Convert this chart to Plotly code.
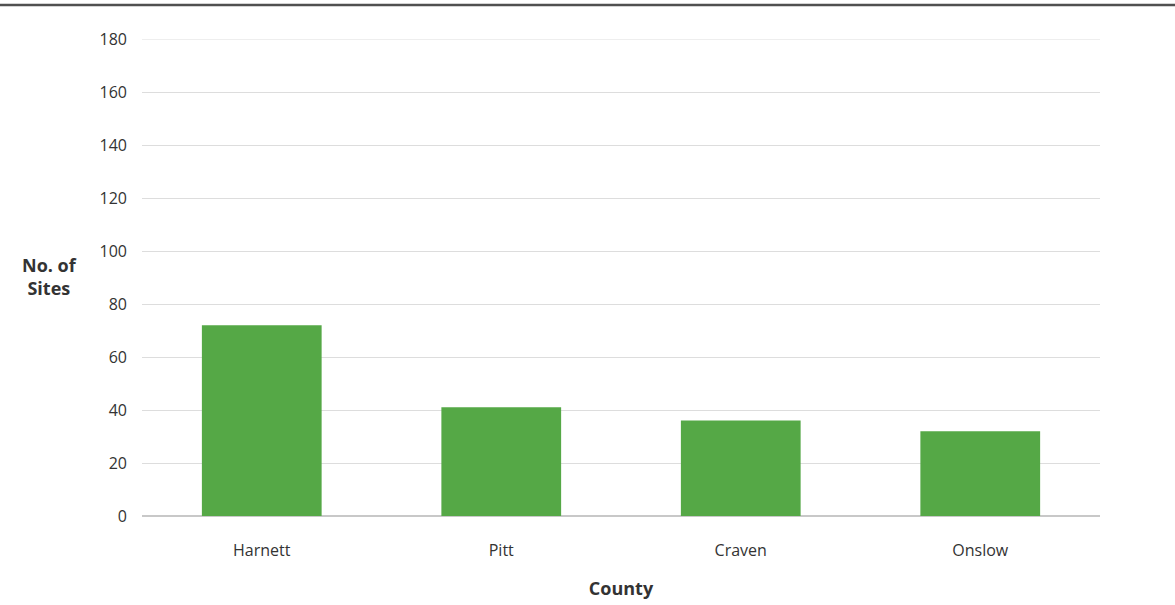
import plotly.graph_objects as go

counties = ["Harnett", "Pitt", "Craven", "Onslow"]
sites = [72, 41, 36, 32]
y_ticks = [0, 20, 40, 60, 80, 100, 120, 140, 160, 180]

W, H = 1175, 605
M = dict(l=142, r=75, t=39, b=89)
plot_h = H - M["t"] - M["b"]
plot_w = W - M["l"] - M["r"]

fig = go.Figure(
    go.Bar(
        x=counties,
        y=sites,
        marker=dict(color="#55a846", line=dict(width=0)),
        width=0.5,
        hoverinfo="x+y",
    )
)

font = "Open Sans, Noto Sans, DejaVu Sans, sans-serif"

fig.update_layout(
    width=W,
    height=H,
    margin=M,
    plot_bgcolor="white",
    paper_bgcolor="white",
    showlegend=False,
    font=dict(family=font, size=16, color="#333333"),
    xaxis=dict(
        showgrid=False,
        showline=False,
        ticks="",
        automargin=False,
        ticklabelstandoff=23,
        tickfont=dict(size=16, color="#333333"),
        title=dict(text="<b>County</b>", font=dict(size=18, color="#333333"), standoff=22),
    ),
    yaxis=dict(
        range=[0, 180],
        tickvals=y_ticks,
        automargin=False,
        showgrid=True,
        gridcolor="#dddddd",
        gridwidth=1,
        zeroline=True,
        zerolinecolor="#c8c8c8",
        zerolinewidth=1.5,
        showline=False,
        ticks="",
        ticklabelstandoff=14,
        tickfont=dict(size=16, color="#333333"),
    ),
    annotations=[
        dict(
            text="<b>No. of<br>Sites</b>",
            xref="paper", yref="paper",
            x=-0.097, y=(516 - 276) / plot_h,
            xanchor="center", yanchor="middle",
            showarrow=False, align="center",
            font=dict(size=18, color="#333333"),
        )
    ],
    shapes=[
        # rule across the top of the page
        dict(
            type="line", xref="paper", yref="paper",
            x0=-M["l"] / plot_w, x1=1 + M["r"] / plot_w,
            y0=1 + (M["t"] - 5) / plot_h, y1=1 + (M["t"] - 5) / plot_h,
            line=dict(color="#505050", width=2.5),
        ),
        # gridline at the top of the value range
        dict(
            type="line", xref="paper", yref="y",
            x0=0, x1=1, y0=y_ticks[-1], y1=y_ticks[-1],
            line=dict(color="#dddddd", width=1),
            layer="below",
        ),
    ],
)

fig.write_html("out.html")
